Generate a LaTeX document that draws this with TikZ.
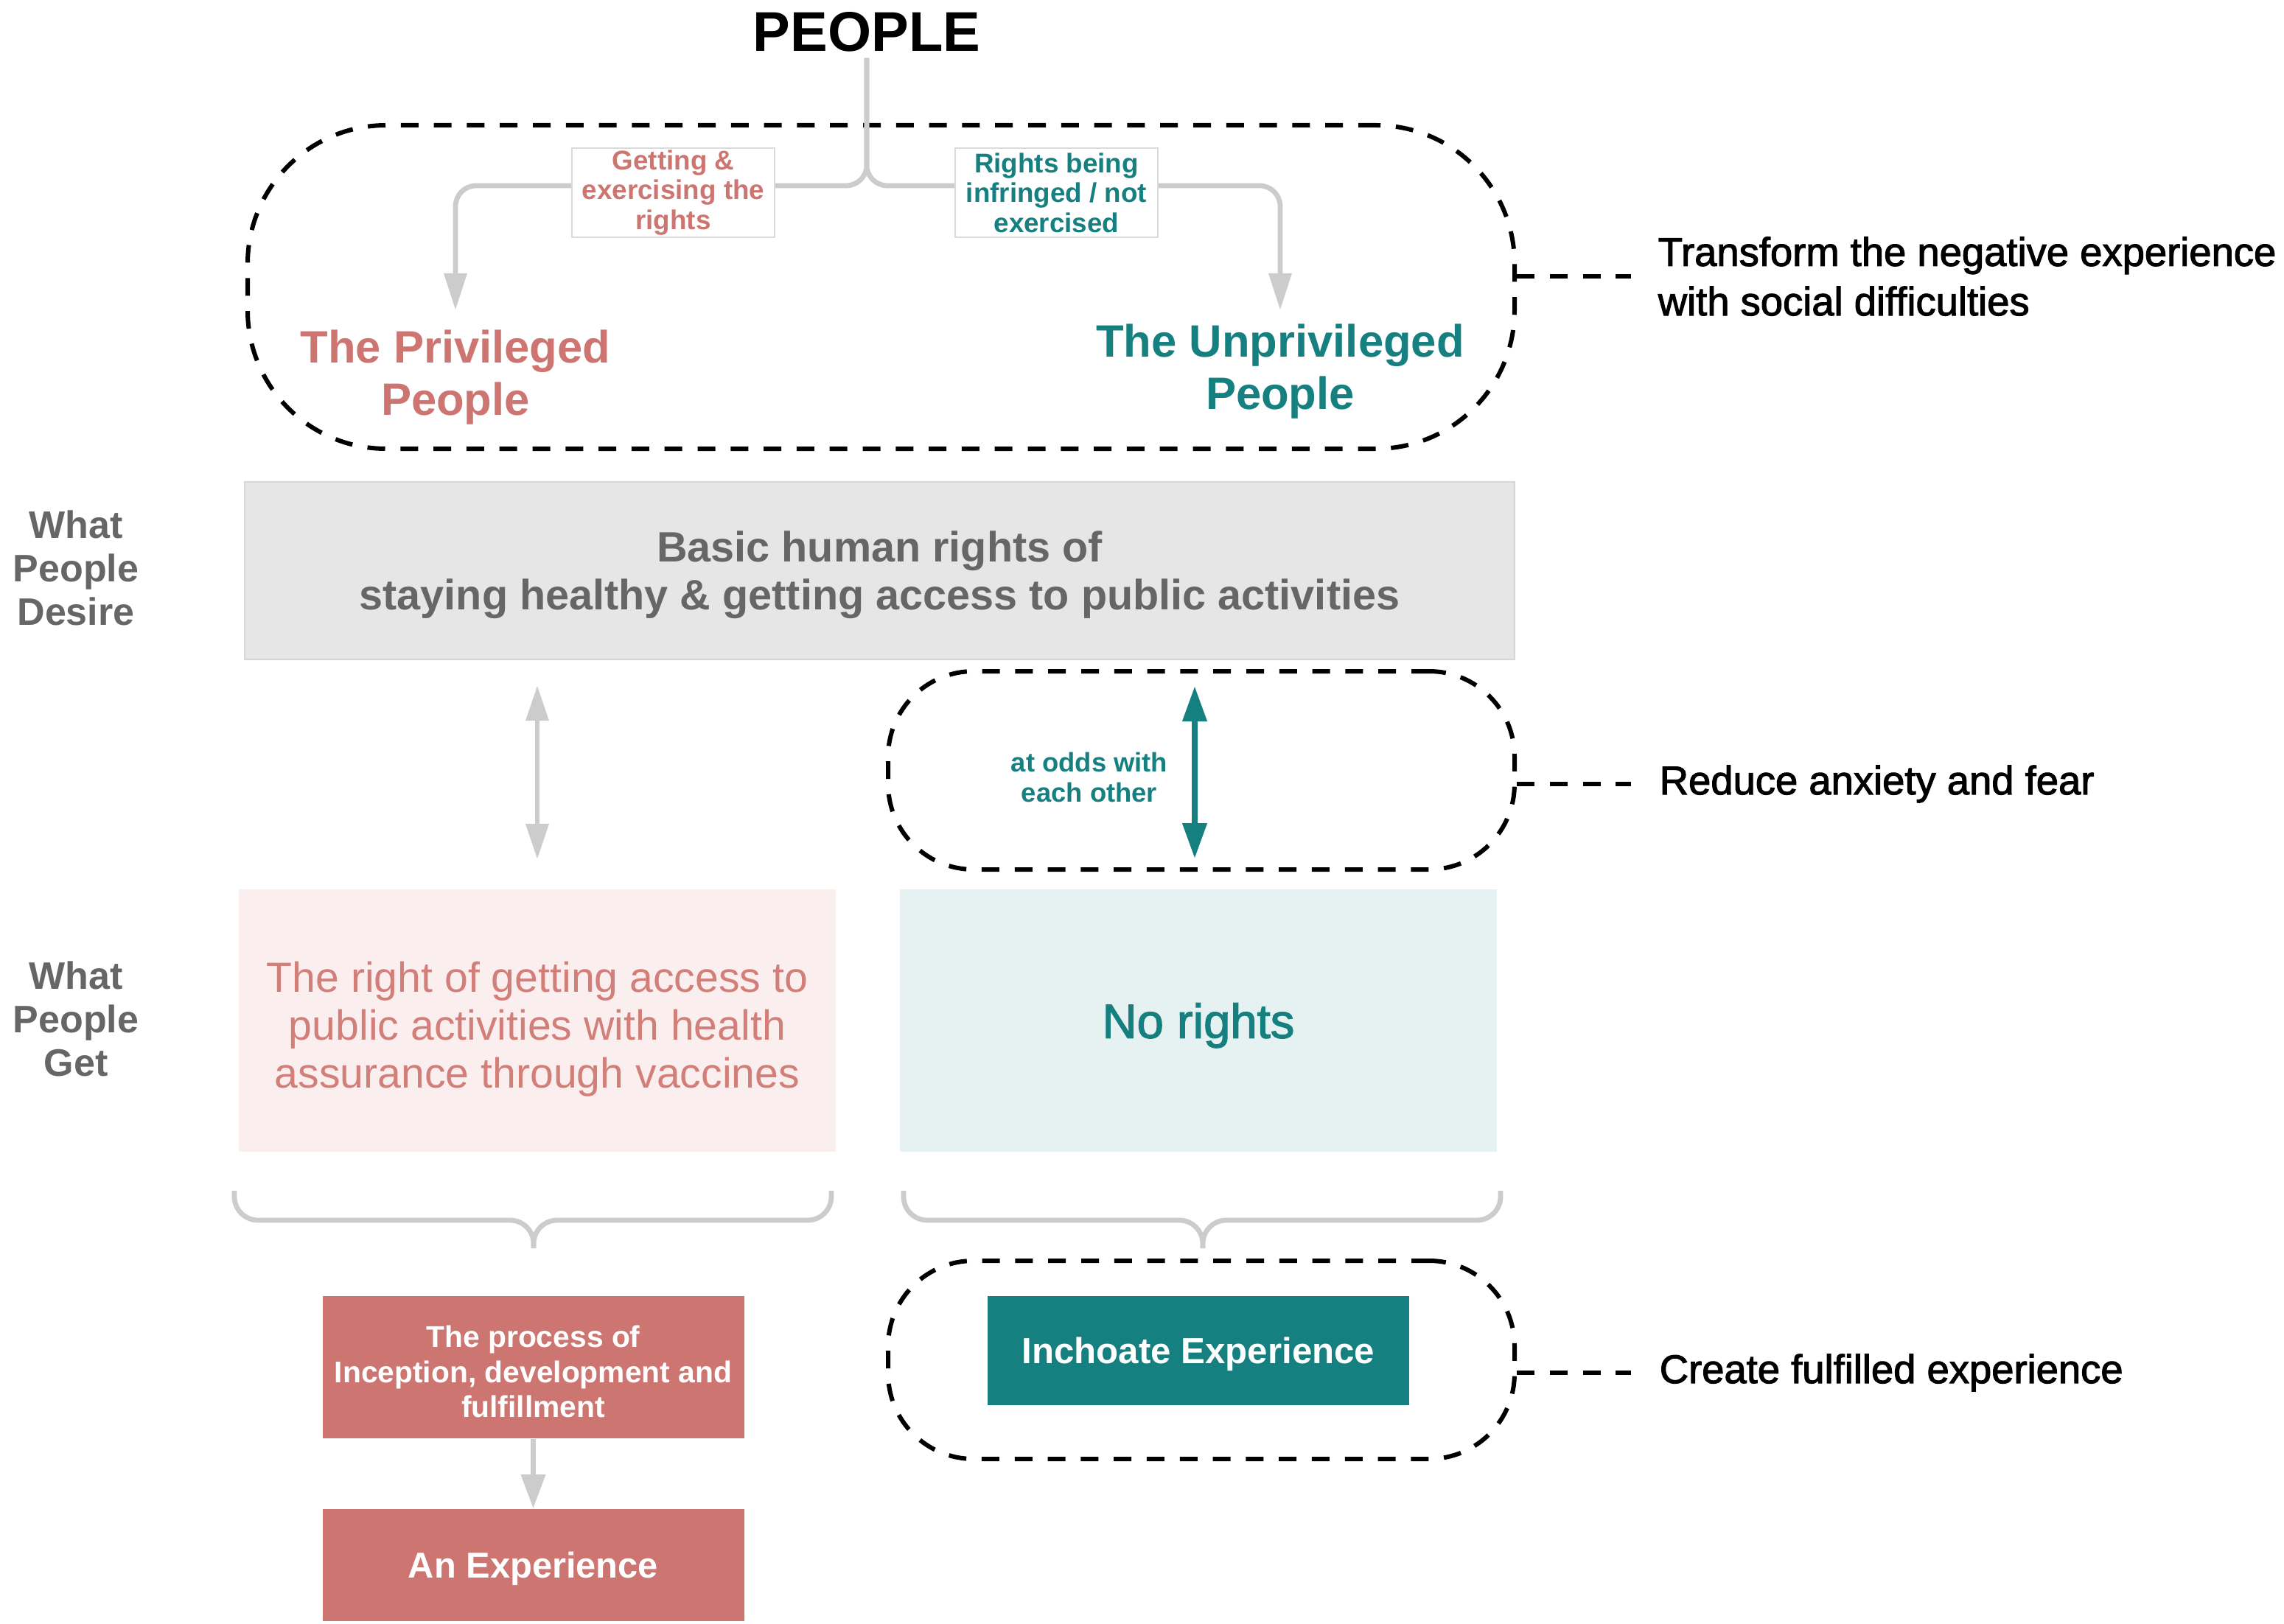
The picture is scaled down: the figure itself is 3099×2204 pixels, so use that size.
\documentclass[tikz,border=0pt]{standalone}
\usepackage{fontspec}
\setmainfont{Liberation Sans}
\newfontfamily\medfont[FakeBold=2]{Liberation Sans}
\usetikzlibrary{arrows.meta}
\definecolor{pinkc}{HTML}{CD7571}
\definecolor{pinkt}{HTML}{D27E79}
\definecolor{tealc}{HTML}{167F80}
\definecolor{pinkl}{HTML}{FAEFEE}
\definecolor{teall}{HTML}{E6F2F2}
\definecolor{grayb}{HTML}{E6E6E6}
\definecolor{grayt}{HTML}{666666}
\definecolor{grayl}{HTML}{CCCCCC}
\tikzset{
  gconn/.style={draw=grayl, line width=1.7pt},
  garrow/.style={gconn, -{Triangle[length=12.5pt,width=7.5pt]}},
  gdbl/.style={gconn, {Triangle[length=12pt,width=7.5pt]}-{Triangle[length=12pt,width=7.5pt]}},
  tdbl/.style={draw=tealc, line width=1.9pt, {Triangle[length=12pt,width=8pt]}-{Triangle[length=12pt,width=8pt]}},
  dashbox/.style={draw=black, line width=1.5pt, dash pattern=on 6pt off 5.2pt, inner sep=0pt},
  dashconn/.style={draw=black, line width=1.5pt, dash pattern=on 6pt off 5.2pt},
  labbox/.style={draw=grayl!70, line width=0.5pt, fill=white, minimum width=68.75pt, minimum height=30.25pt, inner sep=0pt, align=center,
     font=\bfseries\fontsize{9.2pt}{10.1pt}\selectfont},
  bigtxt/.style={align=center, inner sep=0pt, font=\bfseries\fontsize{15.4pt}{17.8pt}\selectfont},
  sidelab/.style={align=center, inner sep=0pt, text=grayt, font=\bfseries\fontsize{13pt}{14.8pt}\selectfont},
  rightlab/.style={align=left, anchor=west, inner sep=0pt, font=\medfont\fontsize{13.6pt}{16.8pt}\selectfont},
  getbox/.style={minimum width=202.5pt, minimum height=89pt, inner sep=0pt},
  solidbox/.style={minimum width=143pt, inner sep=0pt},
  boxtext/.style={align=center, inner sep=0pt},
}
\begin{document}
\begin{tikzpicture}[x=0.25pt,y=-0.25pt]
\useasboundingbox (0,0) rectangle (3099,2204);

% title
\node[inner sep=2pt, font=\bfseries\fontsize{19pt}{22pt}\selectfont] (people) at (1176,43) {PEOPLE};

% top group
\node[dashbox, rounded corners=47pt, minimum width=429.75pt, minimum height=109.75pt] (g1) at (1195.5,389.5) {};
\node[bigtxt, text=pinkc] (priv) at (618,512) {The Privileged\\People};
\node[bigtxt, text=tealc] (unpriv) at (1737,504) {The Unprivileged\\People};
\coordinate (j) at (1176,252);
\draw[garrow, rounded corners=7pt, shorten >=6.5pt] (people.south) -- (j) -| (priv.north);
\draw[garrow, rounded corners=7pt, shorten >=4.5pt] (people.south) -- (j) -| (unpriv.north);
\node[labbox, text=pinkc] (lab1) at (913.5,261.5) {Getting \&\\exercising the\\rights};
\node[labbox, text=tealc] (lab2) at (1433.5,261.5) {Rights being\\infringed / not\\exercised};

% desire row
\node[draw=grayl!80, line width=0.6pt, fill=grayb, minimum width=430.75pt, minimum height=60.25pt, inner sep=0pt] (desire) at (1193.5,774.5) {};
\node[boxtext, text=grayt, font=\bfseries\fontsize{14.4pt}{16.3pt}\selectfont] (desireT) at ([yshift=-1.5pt]desire.center)
      {Basic human rights of\\staying healthy \& getting access to public activities};
\node[sidelab] (wdes) at (103,771) {What\\People\\Desire};

% get row
\node[getbox, fill=pinkl] (pink) at (729,1385) {};
\node[boxtext, text=pinkt, font=\fontsize{14.3pt}{16.3pt}\selectfont] (pinkT) at ([yshift=-3pt]pink.center)
      {The right of getting access to\\public activities with health\\assurance through vaccines};
\node[getbox, fill=teall, text=tealc, text depth=0pt, font=\medfont\fontsize{16.3pt}{18pt}\selectfont] (nor) at (1626,1385) {No rights};
\node[sidelab] (wget) at (103,1383) {What\\People\\Get};

% middle group
\node[dashbox, rounded corners=29pt, minimum width=212.5pt, minimum height=67.25pt] (g2) at (1630,1045.5) {};
\draw[gdbl, shorten <=8.5pt, shorten >=10pt] (desire.south -| pink.north) -- (pink.north);
\draw[tdbl, shorten <=8.75pt, shorten >=10.75pt] (desire.south -| 1621,0) -- (1621,1208);
\node[align=center, inner sep=0pt, text=tealc, font=\bfseries\fontsize{9.1pt}{10.4pt}\selectfont] (odds) at (1478,1055) {at odds with\\each other};

% braces
\draw[gconn, rounded corners=8pt] (318,1616) -- (318,1656) -- (724,1656) -- (724,1694);
\draw[gconn, rounded corners=8pt] (1128,1616) -- (1128,1656) -- (724,1656) -- (724,1694);
\draw[gconn, rounded corners=8pt] (1226,1616) -- (1226,1656) -- (1632,1656) -- (1632,1694);
\draw[gconn, rounded corners=8pt] (2036,1616) -- (2036,1656) -- (1632,1656) -- (1632,1694);

% bottom
\node[solidbox, fill=pinkc, minimum height=48.25pt] (proc) at (723.5,1855.5) {};
\node[boxtext, text=white, font=\bfseries\fontsize{10.2pt}{11.9pt}\selectfont] (procT) at ([yshift=-1.5pt]proc.center)
      {The process of\\Inception, development and\\fulfillment};
\node[solidbox, fill=pinkc, minimum height=38pt, text=white, text depth=0pt, font=\bfseries\fontsize{12.2pt}{14pt}\selectfont] (exp) at (723.5,2124) {An Experience};
\draw[gconn, -{Triangle[length=11.5pt,width=8pt]}] (proc.south) -- (exp.north);
\node[dashbox, rounded corners=29pt, minimum width=212.5pt, minimum height=67.25pt] (g3) at (1630,1845.5) {};
\node[solidbox, fill=tealc, minimum height=37pt, text=white, text depth=0pt, font=\bfseries\fontsize{12.3pt}{14pt}\selectfont] (inch) at (1626,1833) {Inchoate Experience};

% right labels
\node[rightlab] (r1) at (2249,375) {Transform the negative experience\\with social difficulties};
\node[rightlab] (r2) at (2251,1064) {Reduce anxiety and fear};
\node[rightlab] (r3) at (2251,1863) {Create fulfilled experience};
\draw[dashconn, shorten >=9pt] (r1.west -| g1.east) -- (r1.west);
\draw[dashconn, shorten >=9.5pt] (r2.west -| g2.east) -- (r2.west);
\draw[dashconn, shorten >=9.5pt] (r3.west -| g3.east) -- (r3.west);
\end{tikzpicture}
\end{document}
